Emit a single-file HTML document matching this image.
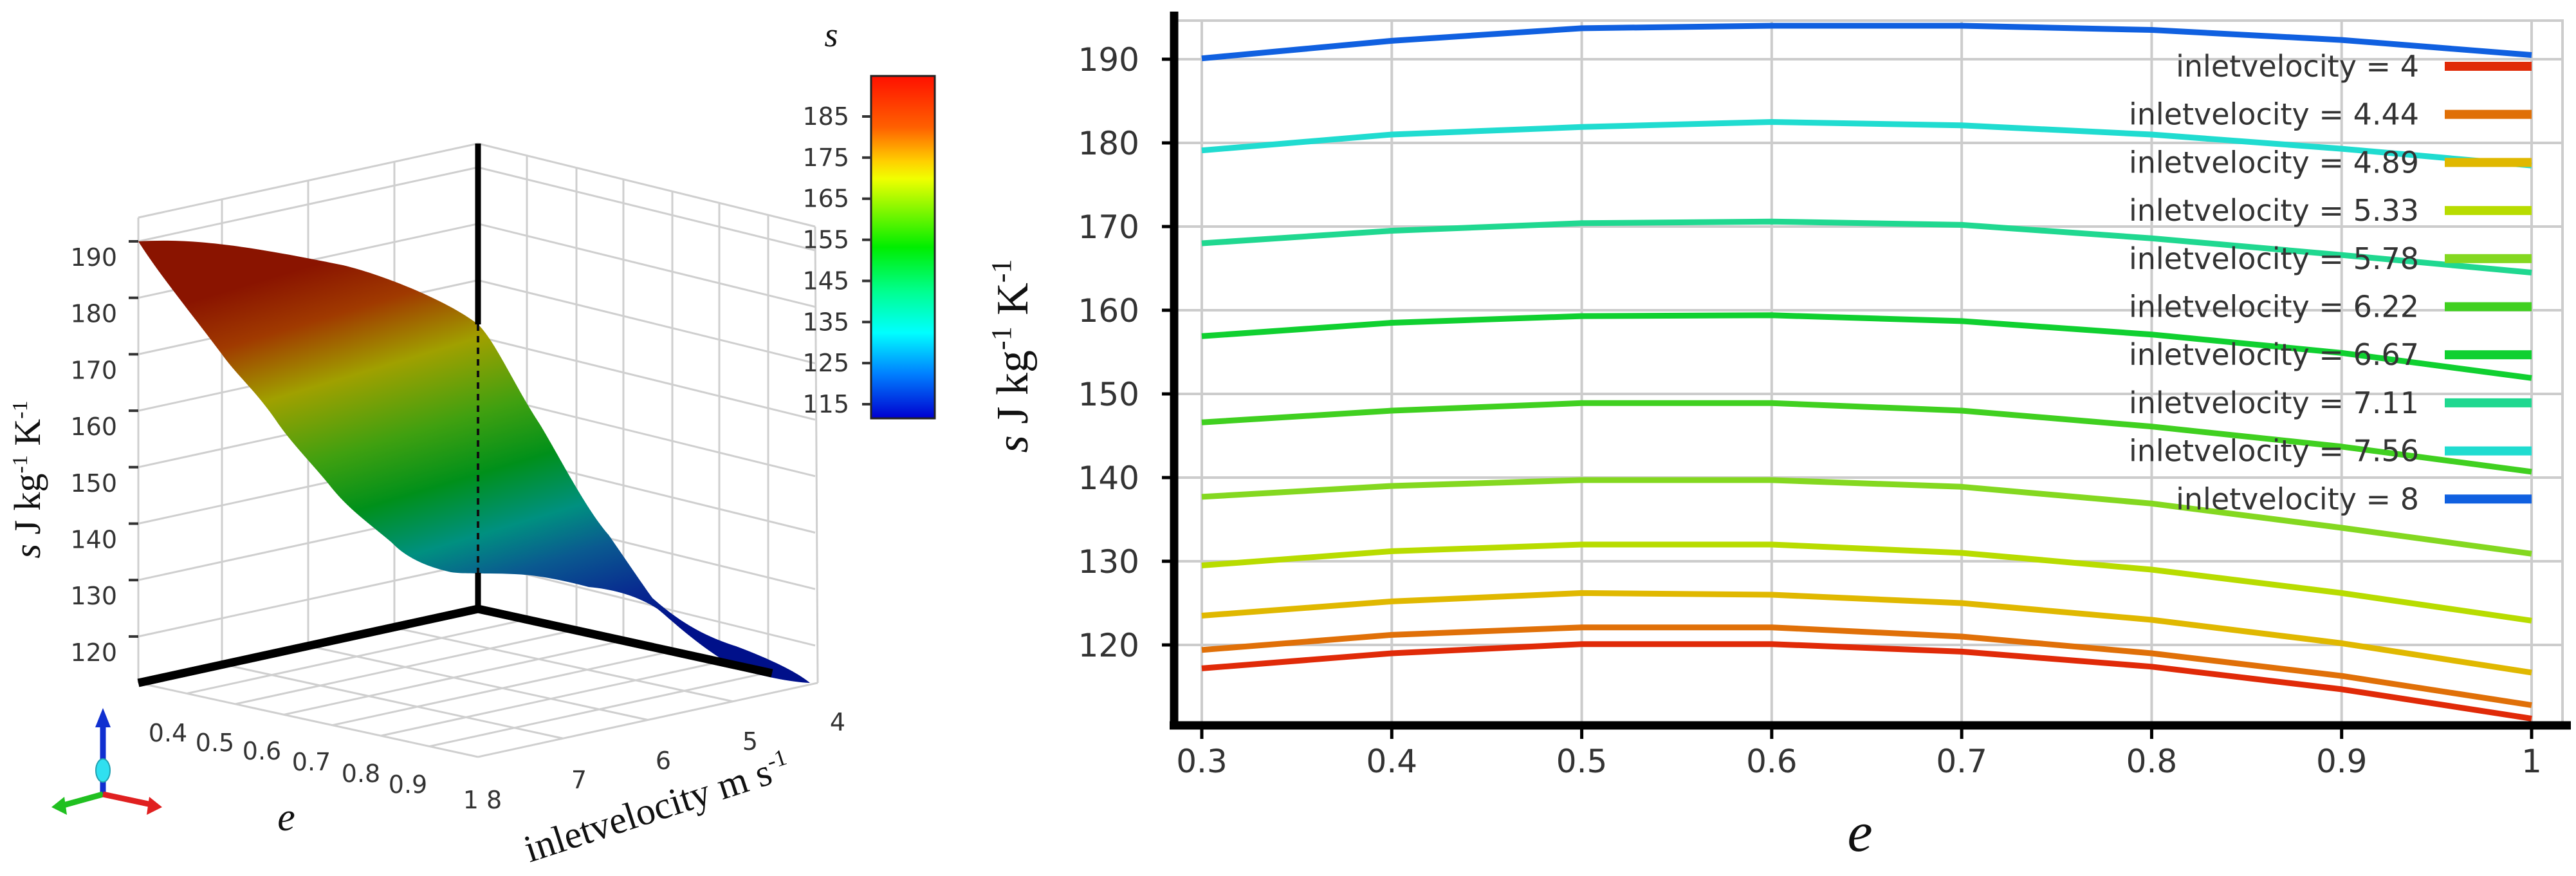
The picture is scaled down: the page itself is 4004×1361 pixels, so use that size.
<!DOCTYPE html>
<html><head><meta charset="utf-8"><style>
html,body{margin:0;padding:0;background:#fff;overflow:hidden;}
svg{display:block;}
.tk{font-family:"DejaVu Sans","Liberation Sans",sans-serif;fill:#333;}
.sf{font-family:"Liberation Serif",serif;fill:#111;}
</style></head><body>
<svg id="fig" width="4004" height="1361" viewBox="0 0 4004 1361" xmlns="http://www.w3.org/2000/svg">
<defs>
<linearGradient id="cbar" x1="0" y1="0" x2="0" y2="1">
<stop offset="0" stop-color="#ff1000"/><stop offset="0.15" stop-color="#ff6000"/><stop offset="0.25" stop-color="#ffd000"/><stop offset="0.3" stop-color="#f0ff00"/><stop offset="0.5" stop-color="#00ee00"/><stop offset="0.63" stop-color="#00ff90"/><stop offset="0.75" stop-color="#00ffff"/><stop offset="0.87" stop-color="#0080ff"/><stop offset="1" stop-color="#0000d0"/>
</linearGradient>
<linearGradient id="surf" gradientUnits="userSpaceOnUse" x1="560" y1="390" x2="760" y2="1060">
<stop offset="0" stop-color="#8a1400"/><stop offset="0.12" stop-color="#a03a00"/><stop offset="0.26" stop-color="#a0a000"/><stop offset="0.42" stop-color="#40a010"/><stop offset="0.55" stop-color="#00901a"/><stop offset="0.68" stop-color="#009080"/><stop offset="0.78" stop-color="#0a5a90"/><stop offset="0.9" stop-color="#082a90"/><stop offset="1" stop-color="#00108a"/>
</linearGradient>
</defs>

<g id="left3d">
<g id="walls" stroke="#cfcfcf" stroke-width="3" fill="none"></g>
<path fill="url(#surf)" d="M215,375 C300,370 380,381 533,412 C600,428 700,470 743,504 C770,530 800,600 839,659 C870,710 910,790 946,831 C980,880 1000,910 1014,929 C1060,970 1100,990 1144,1004 C1200,1025 1240,1045 1259,1061 C1230,1060 1180,1050 1144,1038 C1080,1000 1040,960 1022,946 C990,925 950,915 915,912 C870,900 830,893 800,892 C760,890 720,892 701,889 C660,880 630,865 609,843 C570,810 540,790 510,751 C480,715 455,690 433,659 C400,610 375,590 349,556 C300,490 250,430 215,375 Z"/>
<line x1="743" y1="504" x2="743" y2="946" stroke="#111" stroke-width="4" stroke-dasharray="10,8"/>
<line x1="743" y1="223" x2="743" y2="504" stroke="#000" stroke-width="9"/>
<line x1="743" y1="890" x2="743" y2="946" stroke="#000" stroke-width="9"/>
<line x1="743" y1="946" x2="215" y2="1061" stroke="#000" stroke-width="13"/>
<line x1="743" y1="946" x2="1200" y2="1046" stroke="#000" stroke-width="13"/>
<g id="lticks" class="tk" font-size="38"></g>
<g id="fticks" class="tk" font-size="38"></g>
<text class="sf" font-size="58" transform="translate(62,745) rotate(-90)" text-anchor="middle"><tspan font-style="italic">s</tspan>  J kg<tspan font-size="34" dy="-20">-1</tspan><tspan dy="20"> K</tspan><tspan font-size="34" dy="-20">-1</tspan></text>
<text class="sf" font-size="62" font-style="italic" x="445" y="1290" text-anchor="middle">e</text>
<text class="sf" font-size="60" transform="translate(823,1340) rotate(-18)">inletvelocity  m s<tspan font-size="36" dy="-22">-1</tspan></text>
<g>
<line x1="160" y1="1234" x2="160" y2="1125" stroke="#1030d0" stroke-width="9"/><polygon points="148,1130 172,1130 160,1100" fill="#1030d0"/>
<line x1="160" y1="1234" x2="95" y2="1252" stroke="#20c020" stroke-width="9"/><polygon points="80,1254 100,1238 104,1266" fill="#20c020"/>
<line x1="160" y1="1234" x2="235" y2="1250" stroke="#e02020" stroke-width="9"/><polygon points="252,1254 232,1238 228,1266" fill="#e02020"/>
<ellipse cx="160" cy="1197" rx="11" ry="18" fill="#30e0f0" stroke="#20a0b0" stroke-width="2"/>
</g>
<g>
<rect x="1354" y="118" width="99" height="532" fill="url(#cbar)" stroke="#222" stroke-width="3"/>
<g id="cbticks" class="tk" font-size="38"></g>
<text class="sf" font-size="54" font-style="italic" x="1292" y="72" text-anchor="middle">s</text>
</g>
</g>

<g id="right">
<g id="grid" stroke="#cccccc" stroke-width="4" fill="none"></g>
<g id="series"></g>
<g id="legend"></g>
<line x1="1825" y1="18" x2="1825" y2="1133" stroke="#000" stroke-width="13"/>
<line x1="1818" y1="1127" x2="3996" y2="1127" stroke="#000" stroke-width="13"/>
<g id="axes" class="tk" font-size="50"></g>
<text class="sf" font-size="70" transform="translate(1597,553) rotate(-90)" text-anchor="middle"><tspan font-style="italic">s</tspan>   J kg<tspan font-size="44" dy="-26">-1</tspan><tspan dy="26"> K</tspan><tspan font-size="44" dy="-26">-1</tspan></text>
<text class="sf" font-size="88" font-style="italic" x="2891" y="1322" text-anchor="middle">e</text>
</g>
</svg>
<script>
const NS="http://www.w3.org/2000/svg";
const eValues=[0.3,0.4,0.5,0.6,0.7,0.8,0.9,1.0];
const velocities=["4","4.44","4.89","5.33","5.78","6.22","6.67","7.11","7.56","8"];
const seriesColors=["#e02a08","#e07008","#e0b800","#b8dc00","#84d820","#40d020","#10d030","#20d890","#20dcd0","#1060e0"];
const s4=[117.2,119.0,120.1,120.1,119.2,117.4,114.7,111.2];
const s444=[119.4,121.2,122.1,122.1,121.0,119.0,116.3,112.8];
const s489=[123.5,125.2,126.2,126.0,125.0,123.0,120.2,116.7];
const s533=[129.5,131.2,132.0,132.0,131.0,129.0,126.2,122.9];
const s578=[137.7,139.0,139.7,139.7,138.9,136.9,134.0,130.9];
const s622=[146.6,148.0,148.9,148.9,148.0,146.1,143.7,140.7];
const s667=[156.9,158.5,159.3,159.4,158.7,157.1,154.9,151.9];
const s711=[168.0,169.5,170.4,170.6,170.2,168.6,166.6,164.5];
const s756=[179.1,181.0,181.9,182.5,182.1,181.0,179.3,177.3];
const s8=[190.1,192.2,193.7,194.0,194.0,193.5,192.3,190.5];
const xTicks=["0.3","0.4","0.5","0.6","0.7","0.8","0.9","1"];
const yTicks=[120,130,140,150,160,170,180,190];
const cbTicks=[185,175,165,155,145,135,125,115];
const zTicks=[190,180,170,160,150,140,130,120];
const eFloorTicks=["0.4","0.5","0.6","0.7","0.8","0.9"];
const vFloorTicks=["7","6","5","4"];

const allSeries=[s4,s444,s489,s533,s578,s622,s667,s711,s756,s8];
function X(e){return 1868+(e-0.3)/0.7*2067;}
function Y(v){return 1002-(v-120)*13.0;}
function mk(tag,attrs,parent){const el=document.createElementNS(NS,tag);for(const k in attrs)el.setAttribute(k,attrs[k]);parent.appendChild(el);return el;}

const grid=document.getElementById('grid');
mk('rect',{x:1825,y:32,width:2158,height:1095},grid);
xTicks.forEach(t=>{const el=mk('line',{x1:X(+t),y1:32,x2:X(+t),y2:1127},grid);});
yTicks.forEach(t=>{const el=mk('line',{x1:1825,y1:Y(t),x2:3983,y2:Y(t)},grid);});

const ser=document.getElementById('series');
allSeries.forEach((arr,i)=>{
  let d='';arr.forEach((v,j)=>{d+=(j?'L':'M')+X(eValues[j]).toFixed(1)+','+Y(v).toFixed(1);});
  const p=mk('path',{d:d,fill:'none',stroke:seriesColors[i],'stroke-width':9,'stroke-linejoin':'round'},ser);
  
  
});

const leg=document.getElementById('legend');
velocities.forEach((v,i)=>{
  const y=103+i*74.7;
  const g=mk('g',{},leg);
  
  
  const t=mk('text',{x:3760,y:y,'text-anchor':'end','dominant-baseline':'central','font-size':46,class:'tk',fill:'#333'},g);
  t.textContent='inletvelocity = '+v;
  mk('rect',{x:3800,y:y-7,width:135,height:14,fill:seriesColors[i]},g);
});

const ax=document.getElementById('axes');
xTicks.forEach(t=>{
  mk('line',{x1:X(+t),y1:1130,x2:X(+t),y2:1148,stroke:'#000','stroke-width':5},ax);
  const el=mk('text',{x:X(+t),y:1200,'text-anchor':'middle'},ax);el.textContent=t;
  
});
yTicks.forEach(t=>{
  mk('line',{x1:1806,y1:Y(t),x2:1825,y2:Y(t),stroke:'#000','stroke-width':5},ax);
  const el=mk('text',{x:1771,y:Y(t)+18,'text-anchor':'end'},ax);el.textContent=t;
  
});

// 3D plot axes/grid
const walls=document.getElementById('walls');
const B=[743,946],L=[215,1061],R=[1271,1061],F=[743,1176];
function zy(v){return 375+(190-v)*8.77;}
zTicks.forEach(v=>{mk('line',{x1:215,y1:zy(v),x2:743,y2:zy(v)-115},walls);});
mk('line',{x1:215,y1:338,x2:743,y2:223},walls);
mk('line',{x1:215,y1:338,x2:215,y2:1061},walls);
[345,479,613].forEach(x=>{const f=(x-215)/528;mk('line',{x1:x,y1:338-115*f,x2:x,y2:1061-115*f},walls);});
zTicks.forEach(v=>{mk('line',{x1:743,y1:zy(v)-115,x2:1267,y2:zy(v)+14},walls);});
mk('line',{x1:743,y1:223,x2:1267,y2:352},walls);
mk('line',{x1:1267,y1:352,x2:1271,y2:1061},walls);
[819,896,969,1045,1118,1194].forEach(x=>{const f=(x-743)/524;mk('line',{x1:x,y1:223+129*f,x2:x,y2:946+115*f},walls);});
// floor grid
for(let i=1;i<7;i++){const f=i/7;const p=[L[0]+(F[0]-L[0])*f,L[1]+(F[1]-L[1])*f];mk('line',{x1:p[0],y1:p[1],x2:p[0]+(B[0]-L[0]),y2:p[1]+(B[1]-L[1])},walls);}
for(let i=1;i<4;i++){const f=i/4;const p=[F[0]+(R[0]-F[0])*f,F[1]+(R[1]-F[1])*f];mk('line',{x1:p[0],y1:p[1],x2:p[0]+(B[0]-R[0]),y2:p[1]+(B[1]-R[1])},walls);}
mk('line',{x1:L[0],y1:L[1],x2:F[0],y2:F[1]},walls);
mk('line',{x1:F[0],y1:F[1],x2:R[0],y2:R[1]},walls);

const lt=document.getElementById('lticks');
zTicks.forEach(v=>{
  mk('line',{x1:200,y1:zy(v),x2:215,y2:zy(v),stroke:'#333','stroke-width':4},lt);
  const el=mk('text',{x:182,y:zy(v)+38,'text-anchor':'end'},lt);el.textContent=v;
  
});
const ft=document.getElementById('fticks');
const ePos=[[261,1152],[334,1167],[407,1180],[484,1197],[561,1215],[634,1232]];
eFloorTicks.forEach((t,i)=>{const el=mk('text',{x:ePos[i][0],y:ePos[i][1],'text-anchor':'middle'},ft);el.textContent=t;
  });
const e8=mk('text',{x:750,y:1256,'text-anchor':'middle'},ft);e8.textContent='1 8';

const vPos=[[900,1225],[1031,1195],[1166,1165],[1302,1135]];
vFloorTicks.forEach((t,i)=>{const el=mk('text',{x:vPos[i][0],y:vPos[i][1],'text-anchor':'middle'},ft);el.textContent=t;
  });

const cb=document.getElementById('cbticks');
cbTicks.forEach(v=>{const y=181+(185-v)*(628-181)/70;
  mk('line',{x1:1340,y1:y,x2:1354,y2:y,stroke:'#333','stroke-width':4},cb);
  const el=mk('text',{x:1320,y:y+13,'text-anchor':'end'},cb);el.textContent=v;
  });
</script>
</body></html>
